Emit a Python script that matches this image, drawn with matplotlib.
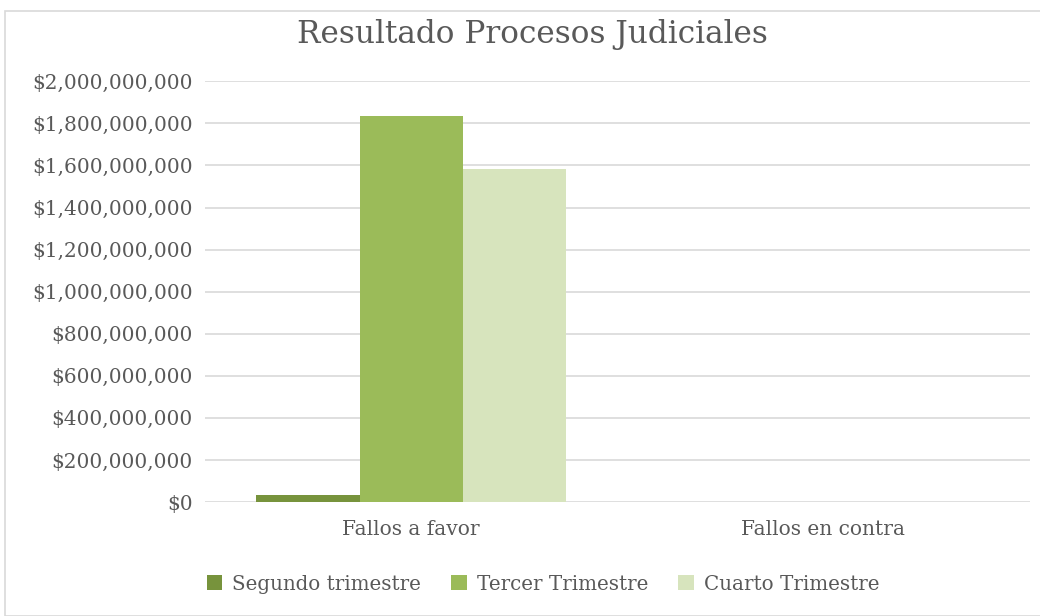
import numpy as np
import matplotlib.pyplot as plt
from matplotlib.ticker import FuncFormatter
from matplotlib.patches import Rectangle

categories = ["Fallos a favor", "Fallos en contra"]
series_names = ["Segundo trimestre", "Tercer Trimestre", "Cuarto Trimestre"]
segundo = [35000000, 0]
tercer = [1835000000, 0]
cuarto = [1583000000, 0]
colors = ["#77933c", "#9bbb59", "#d7e4bd"]

plt.rcParams['font.family'] = ['DejaVu Serif']
text_color = "#595959"

fig = plt.figure(figsize=(10.4, 6.16), dpi=100)
ax = fig.add_axes([0.197, 0.185, 0.793, 0.683])

# outer chart border
fig.patches.append(Rectangle((5 / 1040, 0), 1.0, 1 - 11 / 616, transform=fig.transFigure,
                             fill=False, edgecolor="#d9d9d9", linewidth=1.2))

x = np.arange(len(categories))
width = 0.25
for i, (vals, name) in enumerate(zip([segundo, tercer, cuarto], series_names)):
    ax.bar(x + (i - 1) * width, vals, width, color=colors[i], label=name, zorder=3)

ax.set_xlim(-0.5, 1.5)
ax.set_ylim(0, 2000000000)
ax.set_yticks(np.arange(0, 2000000001, 200000000))
ax.yaxis.set_major_formatter(FuncFormatter(lambda v, p: "${:,.0f}".format(v)))
ax.set_xticks(x)
ax.set_xticklabels(categories)
ax.grid(axis='y', color="#d9d9d9", linewidth=1.2, zorder=0)
for s in ax.spines.values():
    s.set_visible(False)
ax.tick_params(axis='both', length=0, colors=text_color, labelsize=14.5)
ax.tick_params(axis='y', pad=9)
ax.tick_params(axis='x', pad=13)

fig.text(532 / 1040, 1 - 35 / 616, "Resultado Procesos Judiciales", ha='center', va='center',
         fontsize=22.4, color=text_color)

ax.legend(loc='center', bbox_to_anchor=(543 / 1040, 1 - 584 / 616), bbox_transform=fig.transFigure,
          ncol=3, frameon=False, fontsize=14.3, labelcolor=text_color,
          handlelength=0.8, handleheight=0.8, handletextpad=0.5, columnspacing=1.5)

fig.savefig("out.png", dpi=100, facecolor="white")
